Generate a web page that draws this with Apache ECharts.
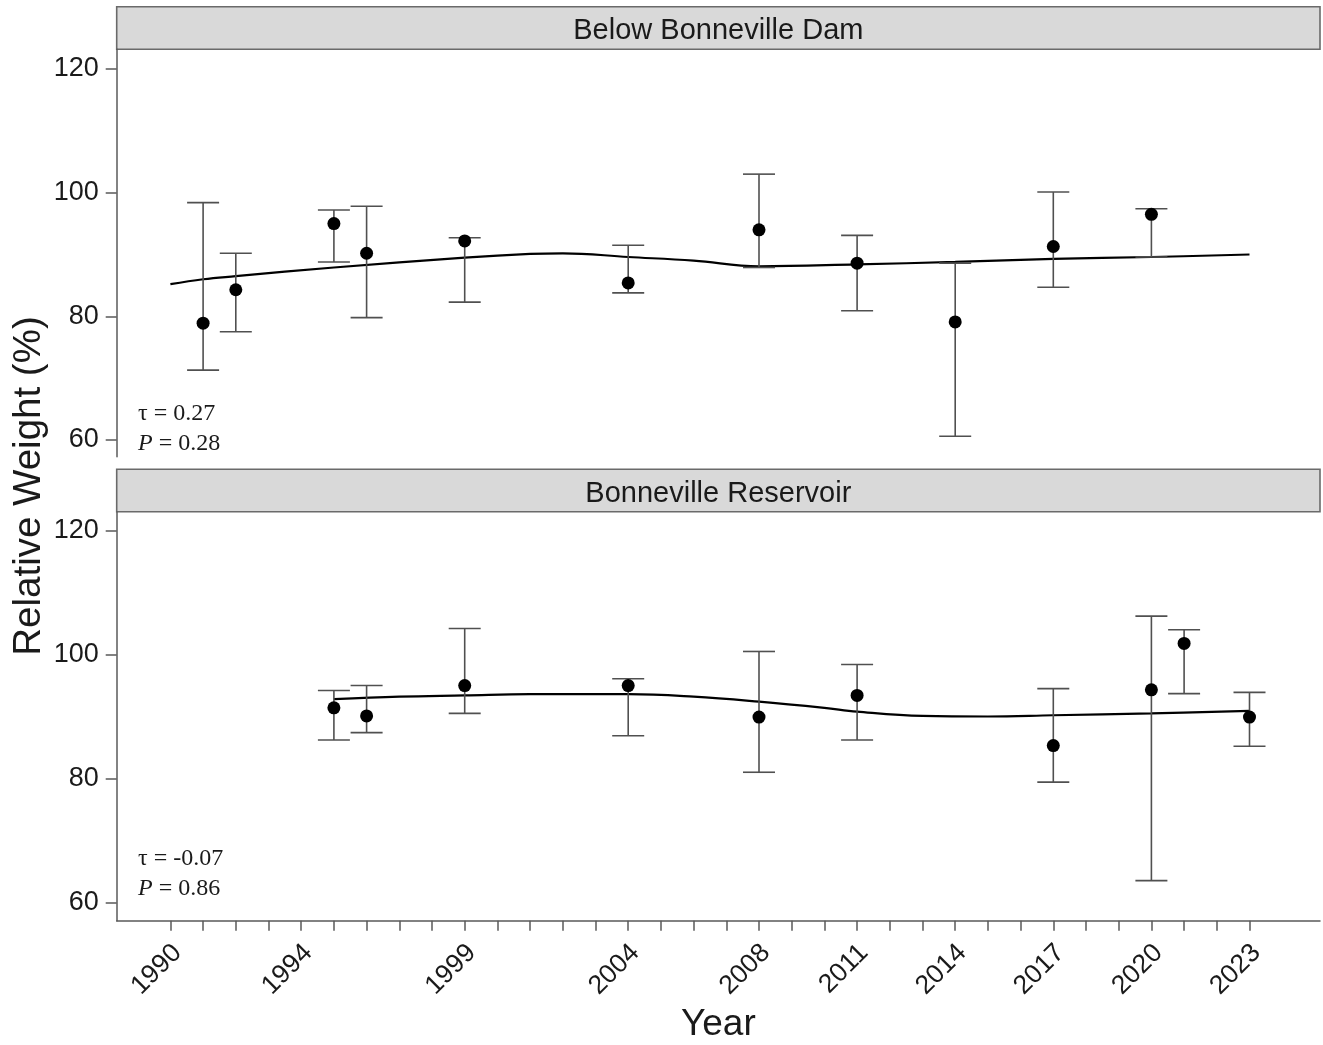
<!DOCTYPE html>
<html>
<head>
<meta charset="utf-8">
<script src="https://cdn.jsdelivr.net/npm/echarts@6/dist/echarts.min.js"></script>
<style>
html,body{margin:0;padding:0;background:#fff;}
#chart{width:1323px;height:1045px;}
</style>
</head>
<body>
<div id="chart"></div>
<script>
// ---- Data ----
const panelTitles = ["Below Bonneville Dam", "Bonneville Reservoir"];

const yearsTop = [1991, 1992, 1995, 1996, 1999, 2004, 2008, 2011, 2014, 2017, 2020];
const meanTop  = [78.9, 84.3, 95.0, 90.2, 92.2, 85.4, 94.0, 88.6, 79.1, 91.3, 96.5];
const upperTop = [98.4, 90.2, 97.2, 97.8, 92.7, 91.5, 103.0, 93.1, 88.6, 100.1, 97.4];
const lowerTop = [71.3, 77.5, 88.8, 79.8, 82.3, 83.8, 87.9, 80.9, 60.6, 84.7, 89.6];

const trendTopYears = [1990, 1991, 1992, 1995, 1999, 2001, 2002, 2004, 2006, 2008, 2011, 2014, 2017, 2020, 2023];
const trendTopVals  = [85.2, 86.0, 86.5, 87.9, 89.5, 90.1, 90.2, 89.6, 89.0, 88.1, 88.4, 88.8, 89.3, 89.6, 90.0];

const yearsBot = [1995, 1996, 1999, 2004, 2008, 2011, 2017, 2020, 2021, 2023];
const meanBot  = [91.4, 90.1, 95.0, 95.0, 89.9, 93.4, 85.3, 94.3, 101.8, 89.9];
const upperBot = [94.2, 95.0, 104.2, 96.1, 100.5, 98.4, 94.5, 106.2, 104.0, 93.9];
const lowerBot = [86.2, 87.4, 90.5, 86.9, 81.0, 86.2, 79.4, 63.5, 93.7, 85.2];

const trendBotYears = [1995, 1997, 1999, 2001, 2004, 2006, 2008, 2010, 2011, 2013, 2015, 2017, 2020, 2023];
const trendBotVals  = [92.8, 93.2, 93.4, 93.6, 93.6, 93.2, 92.4, 91.4, 90.8, 90.1, 90.0, 90.2, 90.5, 90.9];

const statsTop = {tau: "0.27", p: "0.28"};
const statsBot = {tau: "-0.07", p: "0.86"};

const yTicks = [60, 80, 100, 120];
const xLabelYears = [1990, 1994, 1999, 2004, 2008, 2011, 2014, 2017, 2020, 2023];
const xTickYears = [];
for (let y = 1990; y <= 2023; y++) xTickYears.push(y);

// ---- Layout ----
const L = 116.7, R = 1320;
const W = R - L;
const pxPerYear = 32.7;
const xMin = 1990 - (170.4 - L) / pxPerYear;
const xMax = 1990 + (R - 170.4) / pxPerYear;
const labelShift = 7 / pxPerYear;

const top1 = 49.3, h1 = 456.7 - 49.3;
const top2 = 512, h2 = 920.7 - 512;

const SANS = '"Liberation Sans", Arial, sans-serif';
const SERIF = '"Liberation Serif", "Times New Roman", serif';
const axisCol = '#5a5a5a';

function zip(a, b) { return a.map((v, i) => [v, b[i]]); }
function errData(ys, lo, hi) { return ys.map((y, i) => [y, lo[i], hi[i]]); }

function errRender(params, api) {
  const x = api.value(0), lo = api.value(1), hi = api.value(2);
  const pHi = api.coord([x, hi]);
  const pLo = api.coord([x, lo]);
  const hw = 16;
  const st = {stroke: '#505050', lineWidth: 1.6};
  return {
    type: 'group',
    children: [
      {type: 'line', shape: {x1: pHi[0], y1: pHi[1], x2: pLo[0], y2: pLo[1]}, style: st},
      {type: 'line', shape: {x1: pHi[0] - hw, y1: pHi[1], x2: pHi[0] + hw, y2: pHi[1]}, style: st},
      {type: 'line', shape: {x1: pLo[0] - hw, y1: pLo[1], x2: pLo[0] + hw, y2: pLo[1]}, style: st}
    ]
  };
}

function yAxisFor(gi, mn, mx) {
  return {
    type: 'value', gridIndex: gi, min: mn, max: mx,
    axisLine: {show: true, lineStyle: {color: axisCol, width: 1.5}},
    axisTick: {show: true, length: 11, customValues: yTicks, lineStyle: {color: axisCol, width: 1.5}},
    axisLabel: {customValues: yTicks, fontFamily: SANS, fontSize: 27, color: '#1a1a1a', margin: 18,
                formatter: v => String(v)},
    splitLine: {show: false}
  };
}

function statsGraphic(y, s) {
  return {
    type: 'text', left: 138, top: y,
    style: {
      text: '{t|\u03c4 = ' + s.tau + '}\n{i|P}{t| = ' + s.p + '}',
      rich: {
        t: {fontFamily: SERIF, fontSize: 24, lineHeight: 30, fill: '#1a1a1a'},
        i: {fontFamily: SERIF, fontSize: 24, fontStyle: 'italic', lineHeight: 30, fill: '#1a1a1a'}
      }
    }
  };
}

function strip(y, h, title) {
  return {
    type: 'group',
    children: [
      {type: 'rect', shape: {x: L, y: y, width: W, height: h},
       style: {fill: '#d9d9d9', stroke: '#6a6a6a', lineWidth: 1.6}},
      {type: 'text', x: L + W / 2, y: y + h / 2 + 3,
       style: {text: title, fontFamily: SANS, fontSize: 29, fill: '#1a1a1a', textAlign: 'center', textVerticalAlign: 'middle'}}
    ]
  };
}

const option = {
  animation: false,
  backgroundColor: '#ffffff',
  grid: [
    {left: L, width: W, top: top1, height: h1},
    {left: L, width: W, top: top2, height: h2}
  ],
  xAxis: [
    {type: 'value', gridIndex: 0, min: xMin, max: xMax, show: false},
    {type: 'value', gridIndex: 1, min: xMin, max: xMax, position: 'bottom',
     axisLine: {show: true, onZero: false, lineStyle: {color: axisCol, width: 1.5}},
     axisTick: {show: true, length: 10, customValues: xTickYears, lineStyle: {color: axisCol, width: 1.5}},
     axisLabel: {show: false},
     splitLine: {show: false},
     name: 'Year', nameLocation: 'middle', nameGap: 86,
     nameTextStyle: {fontFamily: SANS, fontSize: 37, color: '#1a1a1a'}},
    {type: 'value', gridIndex: 1, min: xMin - labelShift, max: xMax - labelShift, position: 'bottom',
     axisLine: {show: false}, axisTick: {show: false}, splitLine: {show: false},
     axisLabel: {customValues: xLabelYears, rotate: 45, margin: 28, fontFamily: SANS, fontSize: 26.5,
                 color: '#1a1a1a', formatter: v => String(v)}}
  ],
  yAxis: [
    yAxisFor(0, 57.3, 123.19),
    yAxisFor(1, 57.03, 123.02)
  ],
  series: [
    {type: 'line', xAxisIndex: 0, yAxisIndex: 0, data: zip(trendTopYears, trendTopVals), smooth: 0.4,
     showSymbol: false, lineStyle: {color: '#000', width: 2.2}, z: 2},
    {type: 'custom', xAxisIndex: 0, yAxisIndex: 0, data: errData(yearsTop, lowerTop, upperTop),
     renderItem: errRender, encode: {x: 0, y: [1, 2]}, z: 3},
    {type: 'scatter', xAxisIndex: 0, yAxisIndex: 0, data: zip(yearsTop, meanTop), symbol: 'circle',
     symbolSize: 13, itemStyle: {color: '#000', opacity: 1}, z: 4},

    {type: 'line', xAxisIndex: 1, yAxisIndex: 1, data: zip(trendBotYears, trendBotVals), smooth: 0.4,
     showSymbol: false, lineStyle: {color: '#000', width: 2.2}, z: 2},
    {type: 'custom', xAxisIndex: 1, yAxisIndex: 1, data: errData(yearsBot, lowerBot, upperBot),
     renderItem: errRender, encode: {x: 0, y: [1, 2]}, z: 3},
    {type: 'scatter', xAxisIndex: 1, yAxisIndex: 1, data: zip(yearsBot, meanBot), symbol: 'circle',
     symbolSize: 13, itemStyle: {color: '#000', opacity: 1}, z: 4}
  ],
  graphic: [
    strip(6.7, 42.6, panelTitles[0]),
    strip(469.3, 42.4, panelTitles[1]),
    statsGraphic(401.5, statsTop),
    statsGraphic(846.5, statsBot),
    {type: 'text', x: 29, y: 486, rotation: Math.PI / 2,
     style: {text: 'Relative Weight (%)', fontFamily: SANS, fontSize: 38.5, fill: '#1a1a1a',
             textAlign: 'center', textVerticalAlign: 'middle'}}
  ]
};

const chart = echarts.init(document.getElementById('chart'), null, {renderer: 'canvas'});
chart.setOption(option);
</script>
</body>
</html>
